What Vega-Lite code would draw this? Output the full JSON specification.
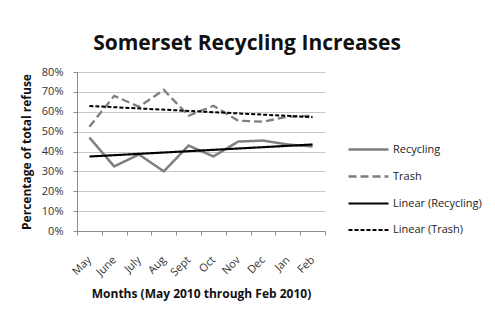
{
  "$schema": "https://vega.github.io/schema/vega-lite/v6.json",
  "autosize": {"type": "none"},
  "width": 248,
  "height": 159,
  "padding": {"left": 77, "top": 72, "right": 170, "bottom": 83},
  "background": "white",
  "title": {"text": "Somerset Recycling Increases", "fontSize": 21, "font": "Open Sans", "fontWeight": "bold", "color": "#111111", "dx": 46, "offset": 12},
  "config": {
    "font": "Open Sans",
    "view": {"stroke": null},
    "axis": {"labelFont": "Open Sans", "titleFont": "Open Sans", "labelColor": "#333333", "titleColor": "#111111", "domainColor": "#8c8c8c", "tickColor": "#8c8c8c", "gridColor": "#c8c8c8", "labelFontSize": 11, "titleFontSize": 12, "titleFontWeight": "bold"},
    "legend": {"labelFont": "Open Sans"}
  },
  "data": {
    "values": [
      {"m": 1, "month": "May", "v": 47, "series": "Recycling", "trend": "Linear (Recycling)"},
      {"m": 2, "month": "June", "v": 32.5, "series": "Recycling", "trend": "Linear (Recycling)"},
      {"m": 3, "month": "July", "v": 38.5, "series": "Recycling", "trend": "Linear (Recycling)"},
      {"m": 4, "month": "Aug", "v": 30, "series": "Recycling", "trend": "Linear (Recycling)"},
      {"m": 5, "month": "Sept", "v": 43, "series": "Recycling", "trend": "Linear (Recycling)"},
      {"m": 6, "month": "Oct", "v": 37.5, "series": "Recycling", "trend": "Linear (Recycling)"},
      {"m": 7, "month": "Nov", "v": 45, "series": "Recycling", "trend": "Linear (Recycling)"},
      {"m": 8, "month": "Dec", "v": 45.5, "series": "Recycling", "trend": "Linear (Recycling)"},
      {"m": 9, "month": "Jan", "v": 43.5, "series": "Recycling", "trend": "Linear (Recycling)"},
      {"m": 10, "month": "Feb", "v": 42.5, "series": "Recycling", "trend": "Linear (Recycling)"},
      {"m": 1, "month": "May", "v": 52.5, "series": "Trash", "trend": "Linear (Trash)"},
      {"m": 2, "month": "June", "v": 68, "series": "Trash", "trend": "Linear (Trash)"},
      {"m": 3, "month": "July", "v": 62.5, "series": "Trash", "trend": "Linear (Trash)"},
      {"m": 4, "month": "Aug", "v": 71, "series": "Trash", "trend": "Linear (Trash)"},
      {"m": 5, "month": "Sept", "v": 58, "series": "Trash", "trend": "Linear (Trash)"},
      {"m": 6, "month": "Oct", "v": 63, "series": "Trash", "trend": "Linear (Trash)"},
      {"m": 7, "month": "Nov", "v": 55.5, "series": "Trash", "trend": "Linear (Trash)"},
      {"m": 8, "month": "Dec", "v": 55, "series": "Trash", "trend": "Linear (Trash)"},
      {"m": 9, "month": "Jan", "v": 57.5, "series": "Trash", "trend": "Linear (Trash)"},
      {"m": 10, "month": "Feb", "v": 58, "series": "Trash", "trend": "Linear (Trash)"}
    ]
  },
  "layer": [
    {
      "mark": {"type": "line"},
      "encoding": {
        "x": {
          "field": "m", "type": "quantitative",
          "scale": {"domain": [0.5, 10.5], "nice": false, "zero": false},
          "axis": {
            "values": [1, 2, 3, 4, 5, 6, 7, 8, 9, 10],
            "labelExpr": "['May','June','July','Aug','Sept','Oct','Nov','Dec','Jan','Feb'][datum.value-1]",
            "labelAngle": -45, "labelAlign": "right", "labelBaseline": "middle", "labelPadding": 27,
            "ticks": false, "grid": false, "domain": false, "orient": "bottom",
            "title": "Months (May  2010 through Feb 2010)", "titleY": 66, "titleBaseline": "alphabetic"
          }
        },
        "y": {
          "field": "v", "type": "quantitative",
          "scale": {"domain": [0, 80], "nice": false},
          "axis": {
            "values": [0, 10, 20, 30, 40, 50, 60, 70, 80],
            "labelExpr": "datum.value + '%'", "labelOverlap": false,
            "tickSize": 4, "labelPadding": 10, "grid": true,
            "title": "Percentage of total refuse", "titlePadding": 8
          }
        },
        "color": {
          "field": "series", "type": "nominal",
          "scale": {"domain": ["Recycling", "Trash", "Linear (Recycling)", "Linear (Trash)"], "range": ["#7f7f7f", "#7f7f7f", "#000000", "#000000"]},
          "legend": {"title": null, "orient": "none", "legendX": 270, "legendY": 56, "symbolType": "stroke", "symbolSize": 1600, "labelFontSize": 11, "labelColor": "#222222", "rowPadding": -2, "labelOffset": 3}
        },
        "strokeDash": {
          "field": "series", "type": "nominal",
          "scale": {"domain": ["Recycling", "Trash", "Linear (Recycling)", "Linear (Trash)"], "range": [[1, 0], [8, 4], [1, 0], [4, 2]]},
          "legend": {"title": null}
        },
        "strokeWidth": {
          "field": "series", "type": "nominal",
          "scale": {"domain": ["Recycling", "Trash", "Linear (Recycling)", "Linear (Trash)"], "range": [2.5, 2, 2, 2]},
          "legend": {"title": null}
        }
      }
    },
    {
      "transform": [{"regression": "v", "on": "m", "groupby": ["trend"]}],
      "mark": {"type": "line"},
      "encoding": {
        "x": {
          "field": "m", "type": "quantitative",
          "axis": {
            "values": [0.5, 1.5, 2.5, 3.5, 4.5, 5.5, 6.5, 7.5, 8.5, 9.5, 10.5],
            "labels": false, "ticks": true, "tickSize": 4, "grid": false, "domain": true, "orient": "bottom", "title": null
          }
        },
        "y": {
          "field": "v", "type": "quantitative",
          "axis": {
            "values": [0, 10, 20, 30, 40, 50, 60, 70, 80],
            "labelExpr": "datum.value + '%'", "labelOverlap": false,
            "tickSize": 4, "labelPadding": 10, "grid": true,
            "title": "Percentage of total refuse", "titlePadding": 8
          }
        },
        "color": {"field": "trend", "type": "nominal", "legend": {"title": null}},
        "strokeDash": {"field": "trend", "type": "nominal", "legend": {"title": null}},
        "strokeWidth": {"field": "trend", "type": "nominal", "legend": {"title": null}}
      }
    }
  ],
  "resolve": {"axis": {"x": "independent"}}
}
